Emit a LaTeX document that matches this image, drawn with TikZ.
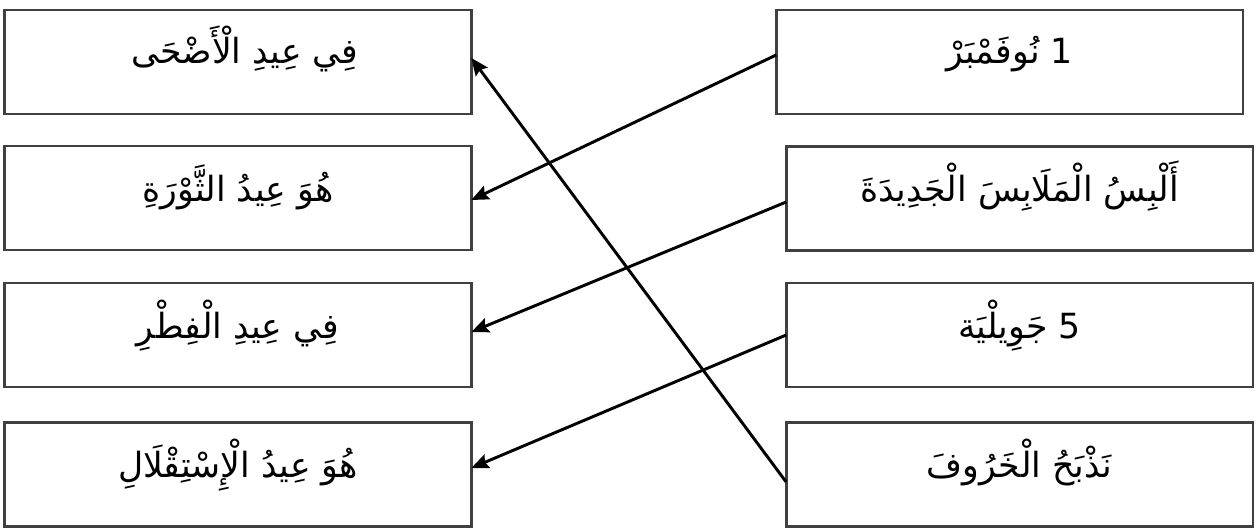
\documentclass[tikz,border=0pt]{standalone}
\usepackage{fontspec}
\setmainfont{DejaVu Sans}
\newfontfamily\arabicfont[Script=Arabic]{DejaVu Sans}
\TeXXeTstate=1
\usetikzlibrary{arrows.meta,calc}
\definecolor{boxline}{HTML}{404040}
\tikzset{
  boxL/.style={draw=boxline, line width=2pt, rectangle, inner sep=0pt, outer sep=0pt, minimum width=350pt, minimum height=78pt},
  txt/.style={anchor=base, inner sep=0pt, font=\fontsize{26}{30}\selectfont\arabicfont},
  arr/.style={draw=black, line width=2.2pt, -{Stealth[length=13pt,width=11pt,inset=2pt]}}
}
\begin{document}
\begin{tikzpicture}[x=0.75pt,y=-0.75pt]
\useasboundingbox (0,0) rectangle (1257,528);
% left boxes
\node[boxL] (l1) at (238,62) {};
\node[boxL] (l2) at (238,198) {};
\node[boxL] (l3) at (238,335) {};
\node[boxL] (l4) at (238,474.5) {};
% right boxes
\node[boxL] (r1) at (1009.5,62) {};
\node[boxL] (r2) at (1019.5,198.5) {};
\node[boxL] (r3) at (1019.5,335) {};
\node[boxL] (r4) at (1019.5,474.5) {};
% texts
\node[txt] (t1) at (245,64) {\beginR فِي عِيدِ الْأَضْحَى\endR};
\node[txt] (t2) at (238,201) {\beginR هُوَ عِيدُ الثَّوْرَةِ\endR};
\node[txt] (t3) at (238,338) {\beginR فِي عِيدِ الْفِطْرِ\endR};
\node[txt] (t4) at (238,477) {\beginR هُوَ عِيدُ الْإِسْتِقْلَالِ\endR};
\node[txt] (t5) at (1009.5,64) {\beginR 1 نُوفَمْبَرْ\endR};
\node[txt] (t6) at (1019.5,201) {\beginR أَلْبِسُ الْمَلَابِسَ الْجَدِيدَةَ\endR};
\node[txt] (t7) at (1019.5,338) {\beginR 5 جَوِيلْيَة\endR};
\node[txt] (t8) at (1019.5,477) {\beginR نَذْبَحُ الْخَرُوفَ\endR};
% arrows
\draw[arr] ($(r4.west)+(0,7.5)$) -- ($(l1.east)+(0,-4)$);
\draw[arr] ($(r1.west)+(0,-7)$) -- ($(l2.east)+(0,2)$);
\draw[arr] ($(r2.west)+(0,3.5)$) -- ($(l3.east)+(0,-3)$);
\draw[arr] ($(r3.west)+(0,0)$) -- ($(l4.east)+(0,-6.5)$);
\end{tikzpicture}
\end{document}
